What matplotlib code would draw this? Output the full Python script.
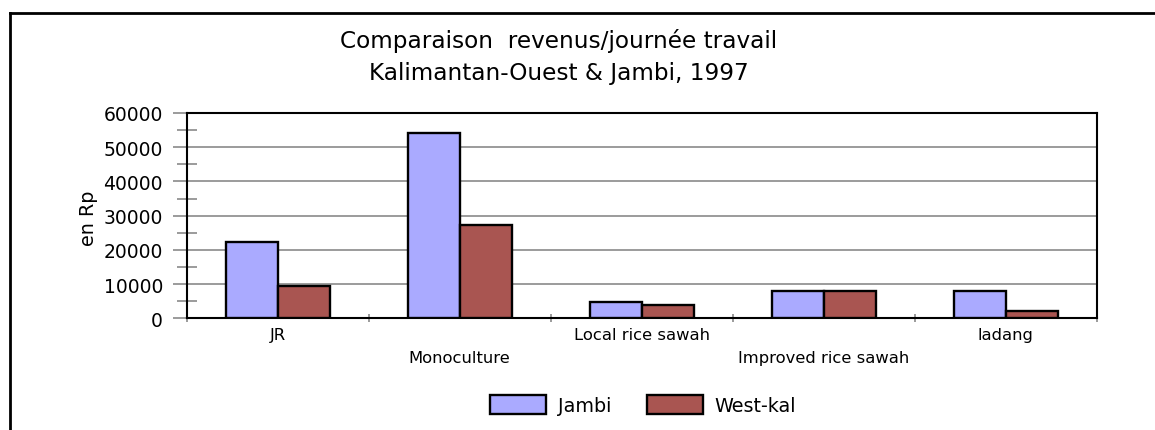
import numpy as np
import matplotlib
matplotlib.use('Agg')
import matplotlib.pyplot as plt; plt.ioff()
from matplotlib.lines import Line2D
from matplotlib.ticker import MultipleLocator

# values (Rp per working day)
categories = [
    'JR', 'Monoculture', 'Local rice sawah', 'Improved rice sawah', 'ladang']
jambi_vals = [22200, 54200, 4900, 8100, 8000]
westkal_vals = [9500, 27300, 3900, 8100, 2100]
series_names = ['Jambi', 'West-kal']
y_ticks = [0, 10000, 20000, 30000, 40000, 50000, 60000]
title_lines = [
    'Comparaison  revenus/journée travail',
    'Kalimantan-Ouest & Jambi, 1997']
y_label = 'en Rp'


def main():

    plt.rcParams['font.family'] = ['DejaVu Sans']

    jambi_clr = '#aaaaff'
    westkal_clr = '#a95551'
    grid_clr = '#808080'

    bar_w = 1 / 3.5  # excel gap width 150 %
    #==========================================================================

    fig = plt.figure(figsize=(11.55, 4.31), dpi=100)
    ax = fig.add_axes([0.1616, 0.2592, 0.7879, 0.4763])

    x = np.arange(len(categories))

    ax.bar(
        x - bar_w / 2,
        jambi_vals,
        bar_w,
        color=jambi_clr,
        edgecolor='k',
        lw=1.7,
        label=series_names[0],
        zorder=3)

    ax.bar(
        x + bar_w / 2,
        westkal_vals,
        bar_w,
        color=westkal_clr,
        edgecolor='k',
        lw=1.7,
        label=series_names[1],
        zorder=3)

    ax.set_xlim(-0.5, len(categories) - 0.5)
    ax.set_ylim(y_ticks[0], y_ticks[-1])

    ax.set_yticks(y_ticks)
    ax.yaxis.set_minor_locator(MultipleLocator(5000))

    ax.grid(axis='y', which='major', color=grid_clr, lw=1.1)
    ax.set_axisbelow(True)

    ax.tick_params(
        axis='y', which='major', direction='out', length=10, width=1.1,
        color=grid_clr, labelsize=13.5, pad=7)
    ax.tick_params(
        axis='y', which='minor', direction='inout', length=14, width=1.1,
        color=grid_clr)

    # categories on two alternating rows
    ax.set_xticks(x)
    ax.set_xticklabels(
        [c if i % 2 == 0 else '\n' + c for i, c in enumerate(categories)])
    for lbl in ax.get_xticklabels():
        lbl.set_linespacing(1.68)

    ax.set_xticks(np.arange(-0.5, len(categories)), minor=True)
    ax.tick_params(
        axis='x', which='major', length=0, labelsize=11.8, pad=6.5)
    ax.tick_params(
        axis='x', which='minor', direction='inout', length=6, width=1.1,
        color=grid_clr)

    for spine in ax.spines.values():
        spine.set_color('k')
        spine.set_linewidth(1.5)

    ax.set_ylabel(y_label, fontsize=13.8)
    ax.yaxis.set_label_coords(-0.097, 0.49)

    fig.text(
        0.4835,
        0.8683,
        '\n'.join(title_lines),
        ha='center',
        va='center',
        fontsize=16.7,
        linespacing=1.49)

    fig.legend(
        loc='center',
        bbox_to_anchor=(0.5567, 0.058),
        ncol=2,
        frameon=False,
        fontsize=13.8,
        handlelength=2.92,
        handleheight=1.15,
        handletextpad=0.61,
        columnspacing=1.85)

    # outer chart frame (cut off on right and bottom)
    fig.add_artist(Line2D(
        [0.0084, 0.0084], [0.0, 0.9682], transform=fig.transFigure,
        color='k', lw=2))
    fig.add_artist(Line2D(
        [0.0084, 1.0], [0.9682, 0.9682], transform=fig.transFigure,
        color='k', lw=2))

    fig.savefig('out.png', dpi=100)
    plt.close()
    return


if __name__ == '__main__':
    main()
